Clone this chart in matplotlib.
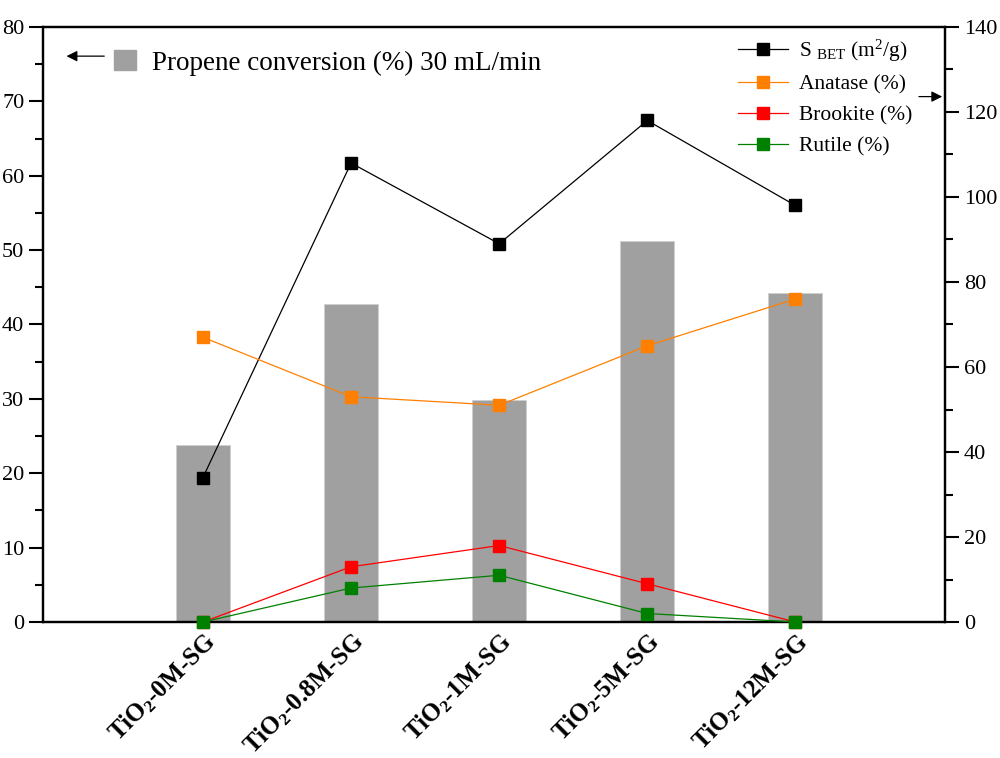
import numpy as np
from matplotlib import pyplot as plt
from matplotlib.lines import Line2D
from matplotlib.patches import Patch
from matplotlib.ticker import MultipleLocator

plt.rcParams['font.family'] = ['Liberation Serif', 'DejaVu Serif']
plt.rcParams['mathtext.fontset'] = 'custom'
plt.rcParams['mathtext.rm'] = 'Liberation Serif'
plt.rcParams['mathtext.it'] = 'Liberation Serif:italic'
plt.rcParams['mathtext.bf'] = 'Liberation Serif:bold'

# data
samples = ['0M', '0.8M', '1M', '5M', '12M']
conversion = [23.8, 42.8, 29.9, 51.2, 44.2]      # left axis, %
s_bet = [34, 108, 89, 118, 98]                    # right axis, m2/g
anatase = [67, 53, 51, 65, 76]
brookite = [0, 13, 18, 9, 0]
rutile = [0, 8, 11, 2, 0]

labels = [r'$\mathbf{TiO_2}$' + '-' + s + '-SG' for s in samples]
x = np.arange(len(samples))

fig = plt.figure(figsize=(10, 7.58), dpi=100)
ax1 = fig.add_axes([0.043, 0.1794, 0.902, 0.785])
ax1.bar(x, conversion, width=0.365, color='#a0a0a0', edgecolor='#d0d0d0', linewidth=0.6)
ax1.set_ylim(0, 80)
ax1.set_xlim(-1.08, 5.01)
ax1.yaxis.set_major_locator(MultipleLocator(10))
ax1.yaxis.set_minor_locator(MultipleLocator(5))
ax1.set_xticks(x)
ax1.set_xticklabels(labels, rotation=45, ha='right', rotation_mode='anchor',
                    fontsize=18, fontweight='bold')
ax1.tick_params(axis='x', length=0, pad=5)
ax1.tick_params(axis='y', which='major', direction='out', length=10, width=1.5, labelsize=16)
ax1.tick_params(axis='y', which='minor', direction='out', length=6, width=1.5)

ax2 = ax1.twinx()
ax2.set_ylim(0, 140)
ax2.yaxis.set_major_locator(MultipleLocator(20))
ax2.yaxis.set_minor_locator(MultipleLocator(10))
ax2.tick_params(axis='y', which='major', direction='out', length=10, width=1.5, labelsize=16)
ax2.tick_params(axis='y', which='minor', direction='out', length=6, width=1.5)

series = [
    (s_bet, 'black', r'S $_{\mathrm{BET}}$ (m$^{\mathrm{2}}$/g)'),
    (anatase, '#ff8000', 'Anatase (%)'),
    (brookite, '#ff0000', 'Brookite (%)'),
    (rutile, '#008000', 'Rutile (%)'),
]
handles = []
for vals, col, lab in series:
    ax2.plot(x, vals, color=col, lw=0.9, marker='s', markersize=9,
             markerfacecolor=col, markeredgecolor=col, clip_on=False, zorder=3)
    handles.append(Line2D([], [], color=col, lw=0.9, marker='s', markersize=9))

for ax in (ax1, ax2):
    for sp in ax.spines.values():
        sp.set_linewidth(1.6)

ax2.legend(handles, [s[2] for s in series], loc='upper right',
           bbox_to_anchor=(0.985, 1.015), frameon=False, fontsize=15.5,
           handlelength=2.3, labelspacing=0.5, handletextpad=0.5)
ax1.legend([Patch(color='#a0a0a0')], ['Propene conversion (%) 30 mL/min'],
           loc='upper left', bbox_to_anchor=(0.052, 1.002), frameon=False,
           fontsize=19.5, handlelength=0.8, handleheight=0.75, handletextpad=0.6)

# arrows pointing to the matching axis
ax1.annotate('', xy=(0.023, 0.951), xytext=(0.071, 0.951), xycoords='axes fraction',
             arrowprops=dict(arrowstyle='-|>', color='black', lw=0.9, mutation_scale=16))
ax2.annotate('', xy=(1.0, 0.883), xytext=(0.968, 0.883), xycoords='axes fraction',
             arrowprops=dict(arrowstyle='-|>', color='black', lw=0.9, mutation_scale=16))

fig.savefig('out.png', dpi=100)
